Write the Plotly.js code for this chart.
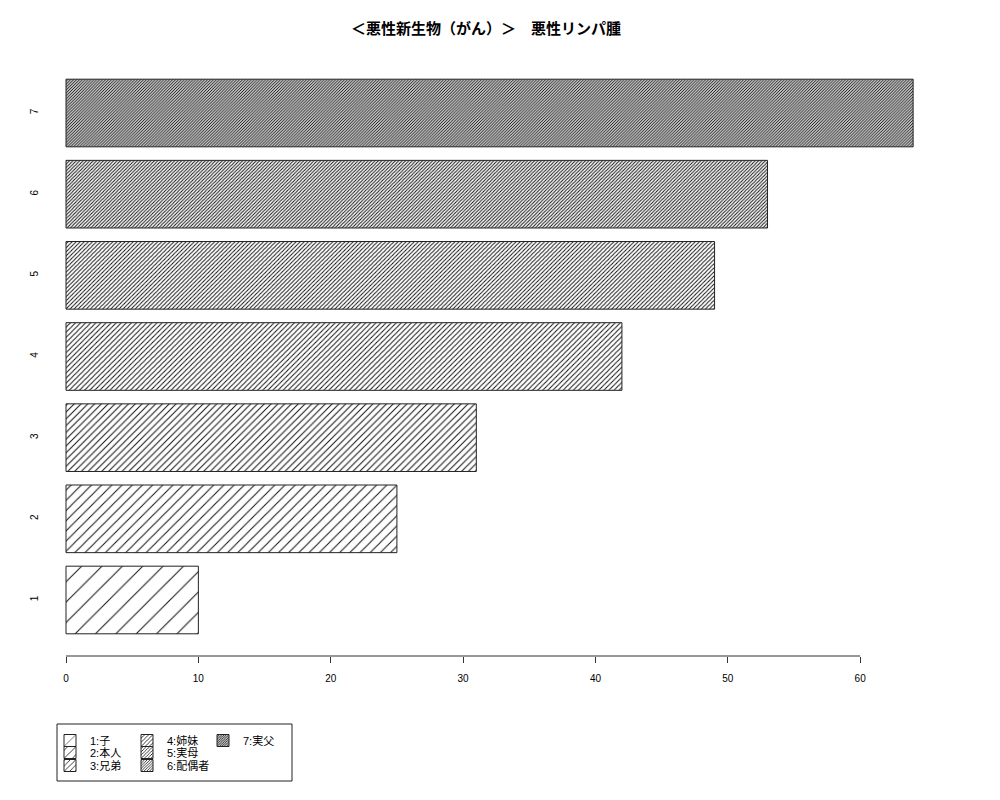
<!DOCTYPE html>
<html>
<head>
<meta charset="utf-8">
<script src="https://cdn.plot.ly/plotly-3.0.1.min.js"></script>
<style>body{margin:0;background:#fff}</style>
</head>
<body>
<div id="chart" style="width:1000px;height:800px"></div>
<script>
// data
const categories = ['1', '2', '3', '4', '5', '6', '7'];
const legendNames = ['1:子', '2:本人', '3:兄弟', '4:姉妹', '5:実母', '6:配偶者', '7:実父'];
const values = [10, 25, 31, 42, 49, 53, 64];
const xTicks = [0, 10, 20, 30, 40, 50, 60];
const titleText = '＜悪性新生物（がん）＞　悪性リンパ腫';

// hatching gets denser with each bar (R density 5, 10, 15 ...)
const hatchSize = [14.4, 7.2, 4.8, 3.6, 2.88, 2.4, 2.06];

const FONT = 'Liberation Sans, Arial, Noto Sans CJK JP, sans-serif';

// plot box in pixels (R plot region)
const M = { l: 41, r: 53, t: 57, b: 144 };
const plotW = 1000 - M.l - M.r;
const plotH = 800 - M.t - M.b;
const px2x = px => (px - M.l) / plotW;
const px2y = py => (800 - M.b - py) / plotH;

// legend laid out column-wise like R: one small legend per entry
const legCol = [50, 50, 50, 127, 127, 127, 203];
const legTop = [726, 738, 751, 726, 738, 751, 726];

let traces = [];
let layoutLegends = {};
for (let i = 0; i < categories.length; i++) {
    const id = i === 0 ? 'legend' : 'legend' + (i + 1);
    traces.push({
        type: 'bar',
        orientation: 'h',
        x: [values[i]],
        y: [categories[i]],
        name: legendNames[i],
        legend: id,
        marker: {
            color: '#ffffff',
            line: { color: '#222222', width: 1 },
            pattern: {
                shape: '/',
                size: hatchSize[i],
                solidity: 1 / hatchSize[i],
                fgcolor: '#111111',
                bgcolor: '#ffffff'
            }
        },
        hoverinfo: 'skip'
    });
    layoutLegends[id] = {
        font: { family: FONT, size: 11, color: '#000' },
        bgcolor: 'rgba(0,0,0,0)',
        borderwidth: 0,
        xanchor: 'left',
        yanchor: 'top',
        x: px2x(legCol[i]),
        y: px2y(legTop[i])
    };
}

const layout = Object.assign({
    width: 1000,
    height: 800,
    title: {
        text: titleText,
        font: { family: 'Noto Sans CJK JP, sans-serif', size: 15, color: '#000', weight: 'bold' },
        x: 0.486,
        xanchor: 'center',
        y: 0.964,
        yanchor: 'middle'
    },
    margin: M,
    paper_bgcolor: '#ffffff',
    plot_bgcolor: '#ffffff',
    barmode: 'overlay',
    bargap: 1 - 1 / 1.2,
    showlegend: true,
    xaxis: {
        range: [-1.889, 66.56],
        tickvals: xTicks,
        ticktext: xTicks.map(String),
        ticks: 'outside',
        ticklen: 6,
        tickcolor: '#333',
        tickwidth: 1,
        ticklabelstandoff: 7,
        showgrid: false,
        zeroline: false,
        showline: false,
        tickfont: { family: FONT, size: 10, color: '#000' },
        fixedrange: true
    },
    yaxis: {
        type: 'category',
        categoryarray: categories,
        range: [-0.69, 6.69],
        showgrid: false,
        zeroline: false,
        showline: false,
        ticks: '',
        tickangle: -90,
        tickfont: { family: FONT, size: 10, color: '#000' },
        fixedrange: true
    },
    shapes: [
        // R style axis line, only from first to last tick
        {
            type: 'line', xref: 'x', yref: 'paper',
            x0: xTicks[0], x1: xTicks[xTicks.length - 1], y0: 0, y1: 0,
            line: { color: '#333', width: 1 }
        },
        // legend frame
        {
            type: 'rect', xref: 'paper', yref: 'paper',
            x0: px2x(57), x1: px2x(292), y0: px2y(781), y1: px2y(724),
            line: { color: '#222', width: 1 }
        }
    ]
}, layoutLegends);

Plotly.newPlot('chart', traces, layout, { staticPlot: true, displayModeBar: false });
</script>
</body>
</html>
